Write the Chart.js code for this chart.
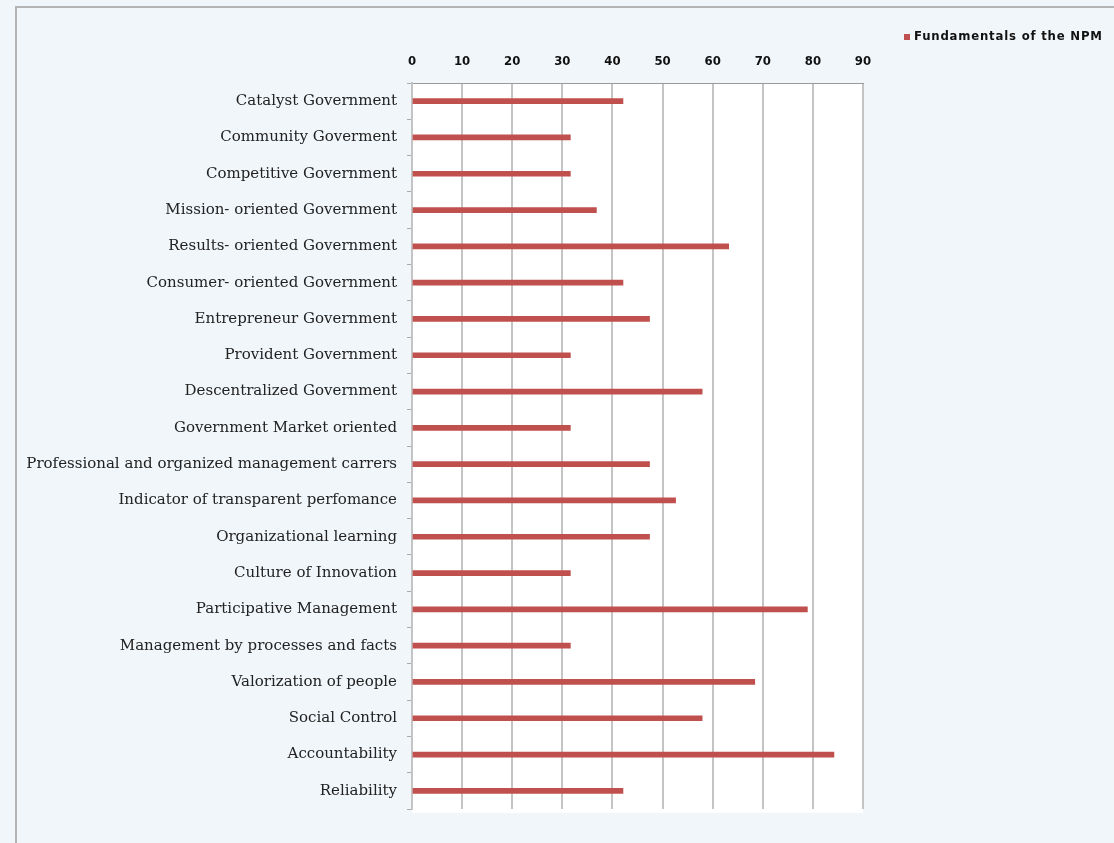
<!DOCTYPE html>
<html>
<head>
<meta charset="utf-8">
<script src="https://cdn.jsdelivr.net/npm/chart.js@4"></script>
<style>
  html, body { margin: 0; padding: 0; background: #f3f7fa; }
  #wrap { width: 1114px; height: 843px; position: relative; }
</style>
</head>
<body>
<div id="wrap"><canvas id="graficoNPM"></canvas></div>
<script>
// Categorias (de cima para baixo)
const categories = [
    'Catalyst Government',
    'Community Goverment',
    'Competitive Government',
    'Mission- oriented Government',
    'Results- oriented Government',
    'Consumer- oriented Government',
    'Entrepreneur Government',
    'Provident Government',
    'Descentralized Government',
    'Government Market oriented',
    'Professional and organized management carrers',
    'Indicator of transparent perfomance',
    'Organizational learning',
    'Culture of Innovation',
    'Participative Management',
    'Management by processes and facts',
    'Valorization of people',
    'Social Control',
    'Accountability',
    'Reliability'
];

// Valores
const npmValues = [42.1, 31.6, 31.6, 36.8, 63.2, 42.1, 47.4, 31.6, 57.9, 31.6,
                   47.4, 52.6, 47.4, 31.6, 78.9, 31.6, 68.4, 57.9, 84.2, 42.1];

const seriesLabel = 'Fundamentals of the NPM';
const xTicks = [0, 10, 20, 30, 40, 50, 60, 70, 80, 90];

// Fundo texturizado, borda e área do gráfico em branco
const backdrop = {
    id: 'backdrop',
    beforeDraw(chart) {
        const { ctx, chartArea: a } = chart;
        ctx.save();
        ctx.fillStyle = '#f1f6fa';
        ctx.fillRect(0, 0, chart.width, chart.height);
        ctx.fillStyle = '#ffffff';
        ctx.fillRect(a.left, a.top, a.right - a.left, a.bottom - a.top + 4);
        ctx.strokeStyle = '#b4b4b4';
        ctx.lineWidth = 2;
        ctx.beginPath();
        ctx.moveTo(16, chart.height);
        ctx.lineTo(16, 7);
        ctx.lineTo(chart.width, 7);
        ctx.stroke();
        ctx.restore();
    }
};

// Legenda desenhada no canto superior direito
const cornerLegend = {
    id: 'cornerLegend',
    afterDraw(chart) {
        const { ctx } = chart;
        const ds = chart.data.datasets[0];
        ctx.save();
        ctx.fillStyle = ds.backgroundColor;
        ctx.fillRect(904, 34, 6, 6);
        ctx.fillStyle = '#111';
        ctx.font = 'bold 13px "DejaVu Sans Condensed", "DejaVu Sans", sans-serif';
        ctx.letterSpacing = '0.8px';
        ctx.textBaseline = 'middle';
        ctx.fillText(ds.label, 914, 37);
        ctx.restore();
    }
};

window.onload = function() {
    const ctx = document.getElementById('graficoNPM').getContext('2d');
    new Chart(ctx, {
        type: 'bar',
        data: {
            labels: categories,
            datasets: [
                {
                    label: seriesLabel,
                    data: npmValues,
                    backgroundColor: '#c0504d',
                    barThickness: 5
                }
            ]
        },
        options: {
            responsive: true,
            maintainAspectRatio: false,
            animation: false,
            indexAxis: 'y',
            layout: {
                padding: { left: 16, right: 251, top: 7, bottom: 34 }
            },
            scales: {
                x: {
                    position: 'top',
                    min: 0,
                    max: 90,
                    afterBuildTicks: (scale) => {
                        scale.ticks = xTicks.map(v => ({ value: v }));
                    },
                    afterFit: (scale) => { scale.height = 76; },
                    grid: {
                        color: '#c4c4c4',
                        lineWidth: 2,
                        drawTicks: false
                    },
                    border: { display: true, color: '#9a9a9a', width: 1 },
                    ticks: {
                        padding: 14,
                        color: '#111',
                        font: { family: '"DejaVu Sans Condensed", "DejaVu Sans", sans-serif', size: 13, weight: 'bold' }
                    }
                },
                y: {
                    afterFit: (scale) => { scale.width = 396; },
                    grid: {
                        drawOnChartArea: false,
                        drawTicks: true,
                        tickLength: 5,
                        color: '#aaaaaa'
                    },
                    border: { display: true, color: '#c4c4c4', width: 2 },
                    ticks: {
                        padding: 10,
                        color: '#222',
                        autoSkip: false,
                        font: { family: '"DejaVu Serif", "Liberation Serif", serif', size: 15 }
                    }
                }
            },
            plugins: {
                legend: { display: false },
                tooltip: { enabled: false }
            }
        },
        plugins: [backdrop, cornerLegend]
    });
};
</script>
</body>
</html>
